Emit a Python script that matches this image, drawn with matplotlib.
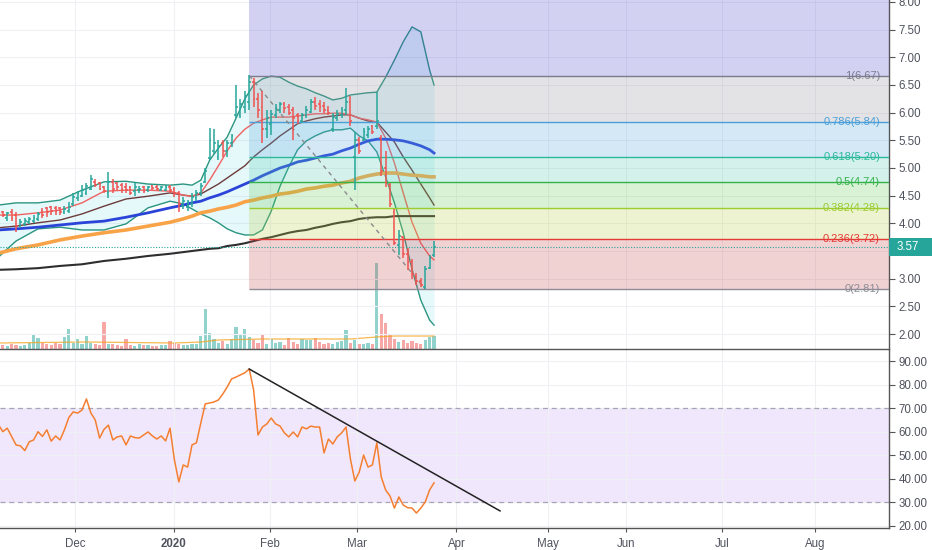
import numpy as np
import matplotlib.pyplot as plt
from matplotlib.patches import Rectangle
from matplotlib.transforms import blended_transform_factory
from matplotlib.ticker import FormatStrFormatter, FuncFormatter

plt.rcParams['font.family'] = ['Liberation Sans', 'DejaVu Sans']

# 1. Dados (uma barra diária por índice)
opens = [4.22, 4.20, 4.10, 4.20, 4.15, 3.95, 3.98, 4.02, 4.05, 4.08,
         4.22, 4.28, 4.30, 4.28, 4.27, 4.20, 4.22, 4.35, 4.45, 4.50,
         4.55, 4.62, 4.75, 4.72, 4.65, 4.55, 4.75, 4.72, 4.70, 4.65,
         4.65, 4.58, 4.60, 4.65, 4.60, 4.68, 4.66, 4.60, 4.60, 4.66,
         4.62, 4.55, 4.32, 4.30, 4.35, 4.45, 4.55, 4.75, 5.18, 5.30,
         5.20, 5.45, 5.30, 5.45, 5.95, 5.95, 6.10, 6.20, 6.55, 6.25,
         6.10, 5.70, 5.80, 5.95, 6.05, 6.15, 6.10, 6.05, 5.95, 5.85,
         5.95, 6.02, 6.20, 6.15, 6.12, 6.05, 5.70, 5.90, 5.95, 6.05,
         6.20, 5.20, 5.50, 5.50, 5.60, 5.75, 5.75, 5.55, 5.00, 4.70,
         4.20, 3.60, 3.75, 3.45, 3.30, 3.05, 2.95, 2.85, 3.20, 3.42]
highs = [4.25, 4.22, 4.20, 4.25, 4.20, 4.08, 4.10, 4.12, 4.15, 4.20,
         4.28, 4.30, 4.32, 4.32, 4.30, 4.32, 4.38, 4.55, 4.58, 4.70,
         4.72, 4.88, 4.80, 4.75, 4.68, 4.92, 4.80, 4.75, 4.72, 4.72,
         4.68, 4.72, 4.68, 4.68, 4.68, 4.70, 4.70, 4.68, 4.70, 4.70,
         4.65, 4.58, 4.48, 4.42, 4.55, 4.60, 4.72, 5.00, 5.72, 5.70,
         5.50, 5.50, 5.50, 5.62, 6.50, 6.25, 6.40, 6.68, 6.62, 6.35,
         6.40, 6.05, 6.05, 6.15, 6.20, 6.20, 6.15, 6.10, 6.00, 6.00,
         6.12, 6.25, 6.28, 6.22, 6.20, 6.12, 6.00, 6.05, 6.10, 6.45,
         6.30, 5.65, 5.56, 5.72, 5.75, 5.78, 6.37, 5.60, 5.30, 4.72,
         4.25, 3.88, 3.78, 3.55, 3.35, 3.10, 3.02, 3.22, 3.42, 3.68]
lows = [4.12, 4.12, 4.05, 4.05, 3.85, 3.92, 3.95, 3.98, 4.00, 4.05,
        4.10, 4.12, 4.15, 4.15, 4.15, 4.17, 4.18, 4.32, 4.40, 4.48,
        4.52, 4.60, 4.65, 4.60, 4.55, 4.45, 4.55, 4.60, 4.55, 4.55,
        4.52, 4.50, 4.55, 4.55, 4.57, 4.60, 4.60, 4.58, 4.58, 4.55,
        4.48, 4.20, 4.25, 4.22, 4.30, 4.40, 4.50, 4.72, 5.15, 5.25,
        5.15, 5.20, 5.20, 5.38, 5.90, 5.90, 6.00, 6.05, 6.10, 5.90,
        5.45, 5.55, 5.60, 5.90, 6.00, 6.00, 5.95, 5.50, 5.80, 5.82,
        5.90, 6.00, 6.05, 6.02, 6.00, 5.95, 5.65, 5.85, 5.90, 5.95,
        5.75, 4.60, 5.25, 5.48, 5.55, 5.62, 5.70, 4.85, 4.65, 4.30,
        3.60, 3.42, 3.38, 3.15, 3.00, 2.88, 2.85, 2.81, 3.18, 3.40]
closes = [4.20, 4.15, 4.18, 4.10, 3.95, 4.02, 4.05, 4.08, 4.10, 4.17,
          4.15, 4.20, 4.22, 4.22, 4.20, 4.25, 4.30, 4.48, 4.55, 4.60,
          4.68, 4.80, 4.70, 4.62, 4.58, 4.75, 4.62, 4.65, 4.62, 4.60,
          4.55, 4.65, 4.62, 4.58, 4.65, 4.63, 4.62, 4.65, 4.66, 4.60,
          4.55, 4.35, 4.40, 4.38, 4.48, 4.55, 4.68, 4.95, 5.50, 5.45,
          5.40, 5.30, 5.45, 5.58, 6.10, 6.15, 6.30, 6.55, 6.25, 6.05,
          5.70, 5.90, 5.98, 6.08, 6.15, 6.08, 6.00, 5.90, 5.85, 5.95,
          6.05, 6.20, 6.12, 6.10, 6.05, 6.00, 5.92, 5.98, 6.05, 6.20,
          5.85, 5.50, 5.30, 5.65, 5.70, 5.65, 5.85, 4.95, 4.72, 4.35,
          3.65, 3.78, 3.45, 3.30, 3.08, 2.95, 2.88, 3.18, 3.38, 3.57]

volume = [3, 4, 3, 5, 4, 3, 4, 6, 14, 11,
          6, 5, 4, 6, 5, 12, 20, 6, 10, 5,
          13, 6, 5, 4, 27, 5, 5, 4, 3, 10,
          4, 3, 5, 4, 4, 3, 3, 4, 4, 8,
          6, 5, 4, 4, 5, 5, 13, 40, 16, 10,
          6, 8, 5, 10, 22, 14, 20, 12, 9, 6,
          14, 5, 10, 6, 7, 4, 11, 7, 5, 10,
          9, 9, 11, 7, 5, 6, 5, 7, 8, 19,
          6, 9, 5, 5, 6, 5, 86, 35, 26, 14,
          10, 7, 9, 6, 8, 6, 5, 9, 12, 13]
vol_ma_idx = [0, 20, 40, 46, 50, 60, 70, 80, 86, 90, 99]
vol_ma = [6, 7, 6, 7, 9, 10, 10, 10, 12, 13, 13]

rsi = [63, 60, 61.5, 58, 54.4, 54, 52, 55.7, 56.5, 60,
       58, 60.8, 56, 58.2, 56.5, 60.8, 66, 68.4, 67.9, 69.2,
       73.9, 68, 65, 57.3, 61, 62.8, 56.5, 57.8, 58.2, 54.4,
       58.2, 57.5, 57.3, 58.6, 59.9, 58.2, 56.9, 58.2, 56.1, 61.5,
       48, 38.7, 45.9, 45, 54.4, 55.3, 63.7, 71.8, 72.2, 72.6,
       73.5, 76, 79, 82.4, 83.2, 84.1, 85, 86.6, 77.7, 58.6,
       62, 63.3, 65.8, 63.3, 62.4, 59.5, 57.8, 59.9, 57.8, 62,
       61.2, 62.4, 62, 62, 51, 56.9, 54.8, 57.8, 59.5, 62,
       48.4, 39.1, 42.9, 50.1, 45, 45.9, 55.3, 40.8, 35.3, 32.7,
       27.6, 32.3, 28.9, 27.8, 27.6, 25.5, 27.6, 30.2, 35.3, 38.3]

# indicadores (amostrados nas barras abaixo)
ind_idx = [0, 4, 9, 14, 19, 24, 29, 34, 39, 42, 44, 46, 48, 50, 52, 54, 56, 58, 60,
           62, 64, 66, 68, 70, 72, 74, 76, 78, 80, 82, 84, 86, 88, 90, 92, 94, 96, 98, 99]
bb_upper = [4.33, 4.37, 4.37, 4.42, 4.60, 4.75, 4.76, 4.71, 4.69, 4.71, 4.69, 4.78, 5.14,
            5.36, 5.56, 5.90, 6.25, 6.50, 6.61, 6.66, 6.64, 6.55, 6.48, 6.43, 6.36, 6.30,
            6.23, 6.26, 6.32, 6.34, 6.36, 6.37, 6.64, 6.95, 7.28, 7.55, 7.46, 6.77, 6.50]
bb_lower = [3.39, 3.68, 3.90, 3.93, 3.88, 3.88, 3.99, 4.28, 4.40, 4.35, 4.26, 4.17, 4.10,
            4.01, 3.90, 3.83, 3.79, 3.79, 3.88, 4.22, 4.67, 5.02, 5.33, 5.49, 5.58, 5.65,
            5.69, 5.69, 5.72, 5.58, 5.49, 5.29, 4.84, 4.37, 3.83, 3.17, 2.61, 2.25, 2.16]
bb_basis = [3.92, 3.95, 4.01, 4.06, 4.17, 4.31, 4.44, 4.49, 4.55, 4.51, 4.49, 4.53, 4.62,
            4.71, 4.82, 4.93, 5.04, 5.20, 5.33, 5.45, 5.58, 5.69, 5.80, 5.85, 5.89, 5.92,
            5.94, 5.96, 5.96, 5.90, 5.85, 5.83, 5.65, 5.47, 5.20, 4.96, 4.71, 4.46, 4.33]
ema_fast = [4.15, 4.15, 4.19, 4.24, 4.37, 4.58, 4.60, 4.60, 4.58, 4.51, 4.49, 4.55, 4.78,
            5.04, 5.31, 5.54, 5.70, 5.81, 5.87, 5.92, 5.92, 5.92, 5.94, 5.96, 5.98, 5.98,
            5.99, 5.99, 5.96, 5.90, 5.87, 5.83, 5.54, 5.09, 4.55, 4.02, 3.64, 3.41, 3.34]
ma50 = [3.88, 3.90, 3.93, 3.97, 4.01, 4.04, 4.11, 4.19, 4.28, 4.33, 4.37, 4.40, 4.46,
        4.51, 4.57, 4.64, 4.71, 4.78, 4.86, 4.93, 5.00, 5.05, 5.11, 5.14, 5.18, 5.22,
        5.25, 5.31, 5.36, 5.43, 5.49, 5.52, 5.52, 5.51, 5.49, 5.45, 5.40, 5.33, 5.27]
ma100 = [3.46, 3.54, 3.61, 3.70, 3.77, 3.83, 3.88, 3.95, 4.02, 4.08, 4.13, 4.19, 4.22,
         4.26, 4.29, 4.33, 4.39, 4.42, 4.46, 4.49, 4.53, 4.55, 4.58, 4.62, 4.64, 4.67,
         4.69, 4.73, 4.76, 4.82, 4.86, 4.89, 4.91, 4.91, 4.89, 4.87, 4.86, 4.84, 4.84]
ma200 = [3.16, 3.17, 3.19, 3.23, 3.26, 3.32, 3.36, 3.41, 3.45, 3.48, 3.50, 3.52, 3.54,
         3.55, 3.59, 3.61, 3.64, 3.68, 3.72, 3.75, 3.79, 3.83, 3.86, 3.88, 3.92, 3.95,
         3.99, 4.02, 4.04, 4.08, 4.10, 4.11, 4.11, 4.13, 4.13, 4.13, 4.13, 4.13, 4.13]

# Fibonacci (da máxima à mínima)
fib_ratios = ['0', '0.236', '0.382', '0.5', '0.618', '0.786', '1']
fib_prices = [2.81, 3.72, 4.28, 4.74, 5.20, 5.84, 6.67]
fib_top = 9.06
fib_high_bar = 57
fib_low_bar = 97

rsi_trend_x = [57, 114]
rsi_trend_y = [86.6, 26.4]

month_labels = ['Dec', '2020', 'Feb', 'Mar', 'Apr', 'May', 'Jun', 'Jul', 'Aug']
month_pos = [17.4, 39.9, 61.7, 81.5, 104.1, 124.9, 142.6, 164.5, 185.6]
last_price = 3.57

# 2. Cores
verde = '#26a69a'
vermelho = '#ef5350'
fib_line_colors = ['#8c8c96', '#e53935', '#9ccc2e', '#34b24a', '#2bb99a', '#4a9fd8', '#7b7b8e']
fib_fill_colors = ['#cb4f53', '#bbd34b', '#6bcb5b', '#57cfb3', '#5ba7db', '#93939f', '#4f4bcf']
txt_cor = '#50535e'
grid_cor = '#eef0f4'

# 3. Figura
W, H = 932, 550
fig = plt.figure(figsize=(W / 100, H / 100), dpi=100)
ax_v = fig.add_axes([0, 1 - 349 / H, 889 / W, 349 / H])
ax = fig.add_axes([0, 1 - 349 / H, 889 / W, 349 / H], sharex=ax_v)
ax_r = fig.add_axes([0, 22 / H, 889 / W, 178 / H], sharex=ax_v)

xmin, xmax = 0.36, 202.4
x = np.arange(len(closes))
o, h, l, c = map(np.array, (opens, highs, lows, closes))
up = c >= o
cores = np.where(up, verde, vermelho)

# volume (eixo de fundo)
ax_v.bar(x, volume, width=0.72, color=cores, alpha=0.5, linewidth=0)
ax_v.plot(vol_ma_idx, vol_ma, color='#f5a623', lw=0.9, alpha=0.8)
ax_v.set_ylim(0, max(volume) * 349 / 86)
ax_v.axis('off')
ax_v.set_zorder(0)
ax.set_zorder(1)
ax.patch.set_visible(False)

# Bollinger
ax.fill_between(ind_idx, bb_lower, bb_upper, color='#4dd0e1', alpha=0.14, lw=0, zorder=1)
ax.plot(ind_idx, bb_upper, color='#2a9580', lw=1, zorder=2)
ax.plot(ind_idx, bb_lower, color='#2a9580', lw=1, zorder=2)
ax.plot(ind_idx, bb_basis, color='#6d3b3b', lw=1, zorder=2)
ax.plot(ind_idx, ema_fast, color='#f06262', lw=1, zorder=2)
ax.plot(ind_idx, ma50, color='#2b44d8', lw=2, zorder=2)
ax.plot(ind_idx, ma100, color='#f9a348', lw=2.6, zorder=2)
ax.plot(ind_idx, ma200, color='#2e2e2e', lw=1.5, zorder=2)

# Fibonacci
niveis = fib_prices + [fib_top]
for i in range(len(niveis) - 1):
    ax.fill_between([fib_high_bar, xmax], niveis[i], niveis[i + 1],
                    color=fib_fill_colors[i], alpha=0.25, lw=0, zorder=4)
tr = blended_transform_factory(ax.transAxes, ax.transData)
for r, p, cor in zip(fib_ratios, fib_prices, fib_line_colors):
    ax.hlines(p, fib_high_bar, xmax, color=cor, lw=1, zorder=5)
    ax.text(880 / 889, p, f'{r}({p:.2f})', transform=tr, ha='right', va='center',
            color=cor, fontsize=8, zorder=6)
ax.plot([fib_high_bar, fib_low_bar], [fib_prices[-1], fib_prices[0]],
        color='#8a8a8a', lw=1, ls=(0, (3, 3)), zorder=6)

# barras OHLC
ax.vlines(x, l, h, colors=cores, lw=1.1, zorder=7)
ax.hlines(o, x - 0.4, x, colors=cores, lw=1.1, zorder=7)
ax.hlines(c, x, x + 0.4, colors=cores, lw=1.1, zorder=7)

# último preço
ax.axhline(last_price, color=verde, lw=0.8, ls=(0, (1, 1.5)), zorder=6)
ax.add_patch(Rectangle((1.0, last_price - 0.165), 43 / 889, 0.33, transform=tr,
                       facecolor=verde, edgecolor='none', clip_on=False, zorder=10))
ax.text(1.0 + 8 / 889, last_price, f'{last_price:.2f}', transform=tr, ha='left',
        va='center', color='white', fontsize=8.3, clip_on=False, zorder=11)

ax.set_xlim(xmin, xmax)
ax.set_ylim(1.729, 8.036)
ax.set_yticks(np.arange(2, 8.01, 0.5))

# RSI
ax_r.axhspan(30, 70, color='#f1e7fc', lw=0, zorder=0)
ax_r.axhline(70, color='#a8a3b8', lw=0.9, ls=(0, (4, 3)), zorder=1)
ax_r.axhline(30, color='#a8a3b8', lw=0.9, ls=(0, (4, 3)), zorder=1)
ax_r.plot(x, rsi, color='#f57f30', lw=1.1, zorder=3)
ax_r.plot(rsi_trend_x, rsi_trend_y, color='#222222', lw=1.1, zorder=4)
ax_r.set_ylim(19.15, 94.67)
ax_r.set_yticks(np.arange(20, 91, 10))

# eixos
for a in (ax, ax_r):
    a.yaxis.tick_right()
    a.yaxis.set_major_formatter(FormatStrFormatter('%.2f'))
    a.tick_params(axis='y', length=4, width=0.8, color='#555555', labelsize=8.3,
                  labelcolor=txt_cor, pad=3)
    a.grid(True, color=grid_cor, lw=0.8, zorder=0)
    a.set_axisbelow(True)
    for s in ('top', 'left'):
        a.spines[s].set_visible(False)
    for s in ('right', 'bottom'):
        a.spines[s].set_color('#555555')
        a.spines[s].set_linewidth(1)

# o rótulo do último preço cobre o 3.50
ax.yaxis.set_major_formatter(FuncFormatter(lambda v, p: '' if abs(v - 3.5) < 0.01 else f'{v:.2f}'))

ax_r.set_xticks(month_pos)
ax_r.set_xticklabels(month_labels)
ax_r.tick_params(axis='x', length=3, color='#555555', labelsize=8.3, labelcolor=txt_cor, pad=4)
ax_r.get_xticklabels()[1].set_fontweight('bold')
ax.tick_params(axis='x', length=0, labelbottom=False)

fig.savefig('out.png', dpi=100)
